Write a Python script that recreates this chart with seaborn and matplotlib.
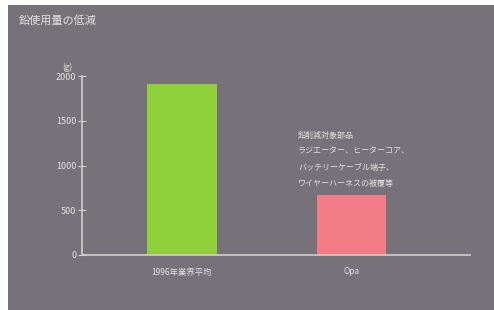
import matplotlib
matplotlib.use("Agg")
import matplotlib.pyplot as plt
import seaborn as sns
from matplotlib.patches import Rectangle

# データ
categories = ["1996年業界平均", "Opa"]
lead_usage = [1910, 675]
bar_colors = ["#8fd03a", "#f47c86"]
y_ticks = [0, 500, 1000, 1500, 2000]
note_lines = ["鉛削減対象部品", "ラジエーター、ヒーターコア、", "バッテリーケーブル端子、", "ワイヤーハーネスの被覆等"]

bg = "#777179"
fg = "#e4e2e0"
axis_col = "#cfcfc6"

sns.set_theme(style="white")
plt.rcParams['font.family'] = ['Noto Sans CJK JP', 'DejaVu Sans']

fig = plt.figure(figsize=(4.94, 3.10), dpi=100)
fig.patch.set_facecolor("white")
fig.patches.append(Rectangle((8 / 494, 0), 1, 1 - 5 / 310, transform=fig.transFigure,
                             facecolor=bg, edgecolor="none", zorder=-10))

ax = fig.add_axes([82 / 494, 1 - 255 / 310, (470 - 82) / 494, (255 - 76) / 310])
ax.set_facecolor("none")

sns.barplot(x=categories, y=lead_usage, hue=categories, palette=bar_colors,
            width=0.41, legend=False, ax=ax, saturation=1, linewidth=0)

ax.set_xlim(-0.59, 1.70)
ax.set_ylim(0, 2000)
ax.set_yticks(y_ticks)
for s in ["top", "right"]:
    ax.spines[s].set_visible(False)
for s in ["left", "bottom"]:
    ax.spines[s].set_color(axis_col)
    ax.spines[s].set_linewidth(1.2)
ax.tick_params(axis="y", direction="inout", length=6, width=0.8, color=axis_col,
               labelsize=6.5, labelcolor=fg, left=True, pad=1)
ax.tick_params(axis="x", length=0, labelsize=6, labelcolor=fg, pad=9)
ax.set_xlabel("")
ax.set_ylabel("")

# 単位
fig.text(67 / 494, 1 - 67 / 310, "(g)", color=fg, fontsize=6, ha="center", va="center")

# タイトル
fig.text(19 / 494, 1 - 20 / 310, "鉛使用量の低減", color=fg, fontsize=8, ha="left", va="center")

# 注記
for i, line in enumerate(note_lines):
    fig.text(298 / 494, 1 - (135 + i * 16) / 310, line, color=fg, fontsize=5.8,
             ha="left", va="center")

fig.savefig("out.png", dpi=100)
